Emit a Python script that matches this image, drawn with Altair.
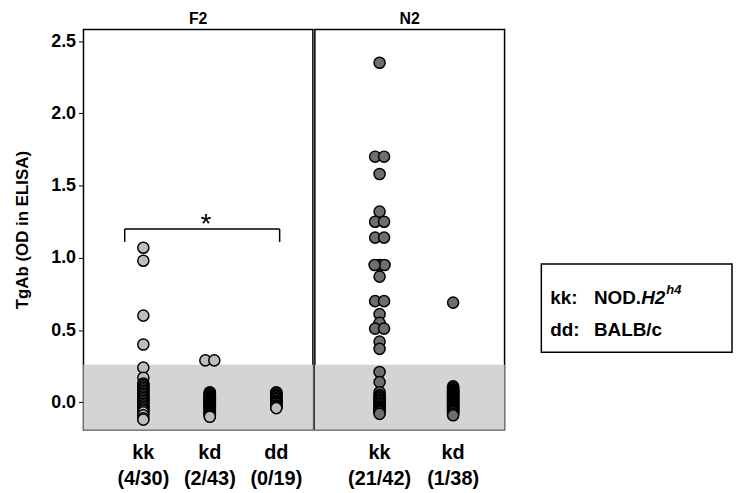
import altair as alt
import pandas as pd

# ---------------- data ----------------
f2_groups = ["kk", "kd", "dd"]
f2_ratios = ["(4/30)", "(2/43)", "(0/19)"]
n2_groups = ["kk", "kd"]
n2_ratios = ["(21/42)", "(1/38)"]

f2_kk = [1.07, 0.98, 0.60, 0.40, 0.24, 0.17, 0.13, 0.12, 0.11, 0.10, 0.09, 0.08, 0.07,
         0.06, 0.05, 0.04, 0.03, 0.02, 0.01, 0.0, -0.01, -0.02, -0.03, -0.04, -0.05,
         -0.06, -0.07, -0.09, -0.11, -0.12]
f2_kd = [0.29, 0.29, 0.07, 0.065, 0.06, 0.055, 0.05, 0.045, 0.04, 0.035, 0.03, 0.027,
         0.024, 0.02, 0.017, 0.014, 0.01, 0.007, 0.004, 0.0, -0.004, -0.007, -0.01,
         -0.014, -0.017, -0.02, -0.024, -0.027, -0.03, -0.035, -0.04, -0.045, -0.05,
         -0.055, -0.06, -0.065, -0.07, -0.075, -0.08, -0.085, -0.09, -0.095, -0.10]
f2_dd = [0.07, 0.065, 0.06, 0.05, 0.045, 0.04, 0.03, 0.025, 0.02, 0.01, 0.005, 0.0,
         -0.005, -0.01, -0.02, -0.025, -0.03, -0.035, -0.04]
n2_kk = [2.35, 1.70, 1.70, 1.58, 1.32, 1.25, 1.25, 1.14, 1.14, 0.95, 0.95, 0.95, 0.87,
         0.70, 0.70, 0.61, 0.55, 0.51, 0.51, 0.42, 0.37,
         0.21, 0.14, 0.07, 0.05, 0.04, 0.03, 0.02, 0.01, 0.00, -0.01, -0.02, -0.03,
         -0.035, -0.04, -0.045, -0.05, -0.055, -0.06, -0.065, -0.07, -0.08]
n2_kd = [0.69, 0.11, 0.10, 0.09, 0.085, 0.08, 0.075, 0.07, 0.065, 0.06, 0.055, 0.05,
         0.045, 0.04, 0.035, 0.03, 0.025, 0.02, 0.015, 0.01, 0.005, 0.0, -0.005, -0.01,
         -0.015, -0.02, -0.025, -0.03, -0.035, -0.04, -0.045, -0.05, -0.055, -0.06,
         -0.065, -0.07, -0.08, -0.09]

y_ticks = [0.0, 0.5, 1.0, 1.5, 2.0, 2.5]
y_min, y_max = -0.19, 2.58
cutoff = 0.26

# significance bracket (F2 kk vs dd)
bracket_x = [0.72, 3.05]
bracket_y = 1.20
bracket_tail = 1.11
star_x, star_y = 1.94, 1.225

legend_keys = ["kk:", "dd:"]
legend_names = ["NOD.", "BALB/c"]
legend_italic = "H2"
legend_sup = "h4"

# ---------------- layout ----------------
FONT = "Liberation Sans"
F2_W, N2_W, H = 231, 191, 403
F2_DOM = [0.1, 3.55]
N2_DOM = [0.12, 2.7]
F2_FILL = "#bdbdbd"
N2_FILL = "#6e6e6e"
BAND = "#d4d4d4"
LFS = 19  # legend font size


def build_points(groups, values_list, dom, width):
    ppu = width / (dom[1] - dom[0])
    rows = []
    for i, (g, vals) in enumerate(zip(groups, values_list)):
        pos = i + 1
        counts = {}
        for v in vals:
            counts[v] = counts.get(v, 0) + 1
        seen = {}
        for v in vals:
            n = counts[v]
            k = seen.get(v, 0)
            seen[v] = k + 1
            if n == 1:
                off = 0.0
            elif n == 2:
                off = [-4.5, 4.5][k]
            else:
                off = [0.0, 5.0, -5.0][k % 3]
            rows.append(dict(group=g, value=v, x=pos + off / ppu))
    return pd.DataFrame(rows)


def panel_layers(groups, ratios, values_list, dom, width, fill, yaxis):
    xs = alt.Scale(domain=dom, nice=False, zero=False)
    ys = alt.Scale(domain=[y_min, y_max], nice=False, zero=False)
    pts = build_points(groups, values_list, dom, width)
    labels = pd.DataFrame({"pos": list(range(1, len(groups) + 1)),
                           "g": groups, "r": ratios})

    band = alt.Chart(pd.DataFrame({"lo": [y_min], "hi": [cutoff]})).mark_rect(
        color=BAND).encode(
        x=alt.value(0), x2=alt.value(width),
        y=alt.Y("lo:Q", scale=ys, axis=yaxis), y2="hi:Q")

    points = alt.Chart(pts).mark_circle(
        size=125, opacity=1, fill=fill, stroke="black", strokeWidth=1.5).encode(
        x=alt.X("x:Q", scale=xs, axis=None),
        y=alt.Y("value:Q", scale=ys, axis=yaxis))

    glab = alt.Chart(labels).mark_text(
        font=FONT, fontSize=20, fontWeight="bold", color="black",
        baseline="middle").encode(
        x=alt.X("pos:Q", scale=xs, axis=None), y=alt.value(H + 23), text="g:N")
    rlab = alt.Chart(labels).mark_text(
        font=FONT, fontSize=20, fontWeight="bold", color="black",
        baseline="middle").encode(
        x=alt.X("pos:Q", scale=xs, axis=None), y=alt.value(H + 50), text="r:N")
    return [band, points, glab, rlab], xs, ys


def title(t):
    return alt.TitleParams(t, font=FONT, fontSize=16, fontWeight="bold",
                           color="black", offset=3, anchor="middle")


f2_axis = alt.Axis(values=y_ticks, format=".1f", title="TgAb (OD in ELISA)",
                   grid=False, domain=False, ticks=True, tickSize=5,
                   tickColor="black", tickWidth=1, labelPadding=3,
                   labelFont=FONT, labelFontSize=18, labelFontWeight="bold",
                   labelColor="black", titleFont=FONT, titleFontSize=17,
                   titleFontWeight="bold", titleColor="black", titlePadding=19)

f2_layers, f2_xs, f2_ys = panel_layers(f2_groups, f2_ratios, [f2_kk, f2_kd, f2_dd],
                                       F2_DOM, F2_W, F2_FILL, f2_axis)

# bracket + star on F2
segs = pd.DataFrame({
    "x": [bracket_x[0], bracket_x[0], bracket_x[1]],
    "x2": [bracket_x[1], bracket_x[0], bracket_x[1]],
    "y": [bracket_y, bracket_tail, bracket_tail],
    "y2": [bracket_y, bracket_y, bracket_y],
})
bracket = alt.Chart(segs).mark_rule(color="black", strokeWidth=1.5).encode(
    x=alt.X("x:Q", scale=f2_xs, axis=None), x2="x2:Q",
    y=alt.Y("y:Q", scale=f2_ys, axis=f2_axis), y2="y2:Q")
star = alt.Chart(pd.DataFrame({"x": [star_x], "y": [star_y], "t": ["*"]})).mark_text(
    font=FONT, fontSize=28, color="black", baseline="middle").encode(
    x=alt.X("x:Q", scale=f2_xs, axis=None),
    y=alt.Y("y:Q", scale=f2_ys, axis=f2_axis), text="t:N")

f2 = alt.layer(*f2_layers, bracket, star).properties(
    width=F2_W, height=H, title=title("F2"))

n2_layers, n2_xs, n2_ys = panel_layers(n2_groups, n2_ratios, [n2_kk, n2_kd],
                                       N2_DOM, N2_W, N2_FILL, None)

# legend box on the right of N2
one = pd.DataFrame({"a": [0]})
box = alt.Chart(one).mark_rect(fill="white", stroke="black", strokeWidth=1.5).encode(
    x=alt.value(228), x2=alt.value(420), y=alt.value(236), y2=alt.value(325))
legend_rows_y = [270, 303]
leg = []
for i in range(len(legend_keys)):
    leg.append(alt.Chart(one).mark_text(
        text=legend_keys[i], font=FONT, fontSize=LFS, fontWeight="bold",
        color="black", align="left", baseline="middle").encode(
        x=alt.value(237), y=alt.value(legend_rows_y[i])))
    leg.append(alt.Chart(one).mark_text(
        text=legend_names[i], font=FONT, fontSize=LFS, fontWeight="bold",
        color="black", align="left", baseline="middle").encode(
        x=alt.value(281), y=alt.value(legend_rows_y[i])))
name_w = 2.5 * LFS
leg.append(alt.Chart(one).mark_text(
    text=legend_italic, font=FONT, fontSize=LFS, fontWeight="bold",
    fontStyle="italic", color="black", align="left", baseline="middle").encode(
    x=alt.value(281 + name_w), y=alt.value(legend_rows_y[0])))
leg.append(alt.Chart(one).mark_text(
    text=legend_sup, font=FONT, fontSize=13, fontWeight="bold",
    fontStyle="italic", color="black", align="left", baseline="middle").encode(
    x=alt.value(281 + name_w + 1.278 * LFS + 1), y=alt.value(legend_rows_y[0] - 8)))

n2 = alt.layer(*n2_layers, box, *leg).properties(
    width=N2_W, height=H, title=title("N2"))

chart = alt.hconcat(f2, n2, spacing=0).configure_view(
    stroke="black", strokeWidth=1.5).properties(
    padding={"left": 5, "top": 0, "right": 0, "bottom": 0})

chart.save("out.html", embed_options={"renderer": "svg", "actions": False})
